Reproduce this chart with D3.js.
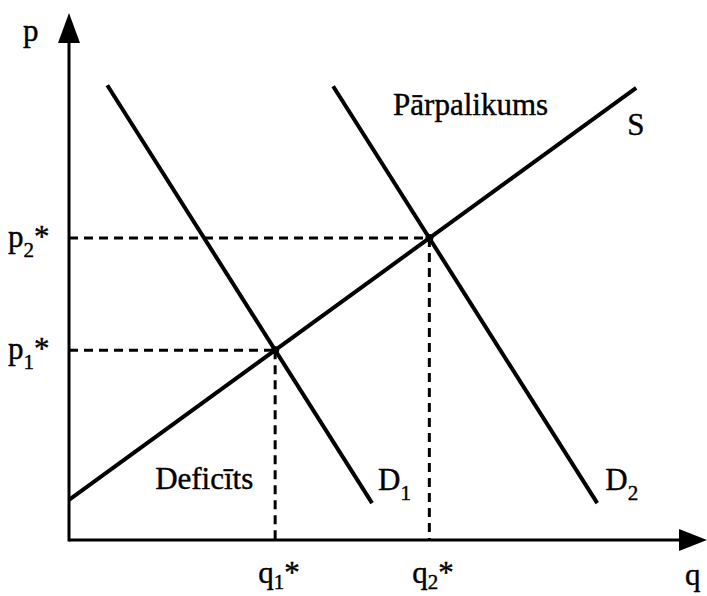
<!DOCTYPE html>
<html>
<head>
<meta charset="utf-8">
<script src="https://cdn.jsdelivr.net/npm/d3@7"></script>
<style>
  html, body { margin: 0; padding: 0; background: #fff; }
  svg { display: block; }
  text { font-family: "Liberation Serif", "DejaVu Serif", serif; fill: #000; stroke: #000; stroke-width: 0.4; }
</style>
</head>
<body>
<div id="chart"></div>
<script>
// curves as endpoints in (q, p) units
const supply = [[0, 7.6], [88.9, 85.8]];
const demand1 = [[6.0, 86.3], [47.5, 7.0]];
const demand2 = [[41.4, 86.1], [82.8, 7.0]];
const curveNames = [['S', ''], ['D', '1'], ['D', '2']];
const priceLabels = [['p', '1'], ['p', '2']];
const qtyLabels = [['q', '1'], ['q', '2']];
const axisNames = ['q', 'p'];
const regionNames = ['Pārpalikums', 'Deficīts'];

const W = 707, H = 596;
const x = d3.scaleLinear().domain([0, 100]).range([69, 707]);
const y = d3.scaleLinear().domain([0, 100]).range([540, 13]);

const svg = d3.select('#chart').append('svg')
  .attr('width', W).attr('height', H)
  .attr('viewBox', `0 0 ${W} ${H}`);

// intersection of two straight lines given by endpoints
function cross([[x1, y1], [x2, y2]], [[x3, y3], [x4, y4]]) {
  const d = (x1 - x2) * (y3 - y4) - (y1 - y2) * (x3 - x4);
  const a = x1 * y2 - y1 * x2, b = x3 * y4 - y3 * x4;
  return [(a * (x3 - x4) - (x1 - x2) * b) / d, (a * (y3 - y4) - (y1 - y2) * b) / d];
}
const eq = [cross(supply, demand1), cross(supply, demand2)];

// dashed guides
const dash = svg.append('g').attr('stroke', '#000').attr('stroke-width', 3)
  .attr('stroke-dasharray', '9,6').attr('fill', 'none');
eq.forEach(([q, p]) => {
  dash.append('line').attr('x1', x(0)).attr('x2', x(q)).attr('y1', y(p)).attr('y2', y(p));
  dash.append('line').attr('x1', x(q)).attr('x2', x(q)).attr('y1', y(p)).attr('y2', y(0));
});

// axes with arrow heads
const ax = svg.append('g');
ax.append('line').attr('x1', x(0)).attr('y1', y(0) + 1.5).attr('x2', x(0)).attr('y2', y(100) + 20)
  .attr('stroke', '#000').attr('stroke-width', 3);
ax.append('line').attr('x1', x(0)).attr('y1', y(0)).attr('x2', x(100) - 20).attr('y2', y(0))
  .attr('stroke', '#000').attr('stroke-width', 3);
ax.append('path')
  .attr('d', `M${x(0)},${y(100)} L${x(0) - 11},${y(100) + 30} L${x(0) + 11},${y(100) + 30}Z`);
ax.append('path')
  .attr('d', `M${x(100)},${y(0)} L${x(100) - 28},${y(0) - 11} L${x(100) - 28},${y(0) + 11}Z`);

// supply / demand lines
const line = d3.line().x(d => x(d[0])).y(d => y(d[1]));
const curves = [supply, demand1, demand2];
svg.append('g').selectAll('path').data(curves).join('path')
  .attr('d', line).attr('fill', 'none').attr('stroke', '#000').attr('stroke-width', 4);

svg.append('g').selectAll('circle').data(eq).join('circle')
  .attr('cx', d => x(d[0])).attr('cy', d => y(d[1])).attr('r', 4);

// label with subscript and optional star
function subLabel(g, px, py, [base, sub], star, drop = 10) {
  const t = g.append('text').attr('x', px).attr('y', py).attr('font-size', 31);
  t.append('tspan').text(base);
  if (sub) t.append('tspan').attr('font-size', 21).attr('dy', drop).text(sub);
  if (star) t.append('tspan').attr('font-size', 31).attr('dy', sub ? -drop : 0).text('*');
  return t;
}

const lab = svg.append('g');
// curve labels near lower/upper ends
const ends = [supply[1], demand1[1], demand2[1]];
const offs = [[-9, 47], [6, -13], [8, -13]];
curveNames.forEach((n, i) => {
  subLabel(lab, x(ends[i][0]) + offs[i][0], y(ends[i][1]) + offs[i][1], n, false);
});

// equilibrium labels
eq.forEach(([q, p], i) => {
  subLabel(lab, 8, y(p) + 9, priceLabels[i], true);
  subLabel(lab, x(q) - 17, y(0) + 43, qtyLabels[i], true, 6);
});

// axis names
lab.append('text').attr('x', x(100) - 22).attr('y', y(0) + 45).attr('font-size', 31).text(axisNames[0]);
lab.append('text').attr('x', 23).attr('y', y(100) + 28).attr('font-size', 31).text(axisNames[1]);

// region notes
lab.append('text').attr('x', x(50.8)).attr('y', y(80.6)).attr('font-size', 31).text(regionNames[0]);
lab.append('text').attr('x', x(13.5)).attr('y', y(9.7)).attr('font-size', 31).text(regionNames[1]);
</script>
</body>
</html>
